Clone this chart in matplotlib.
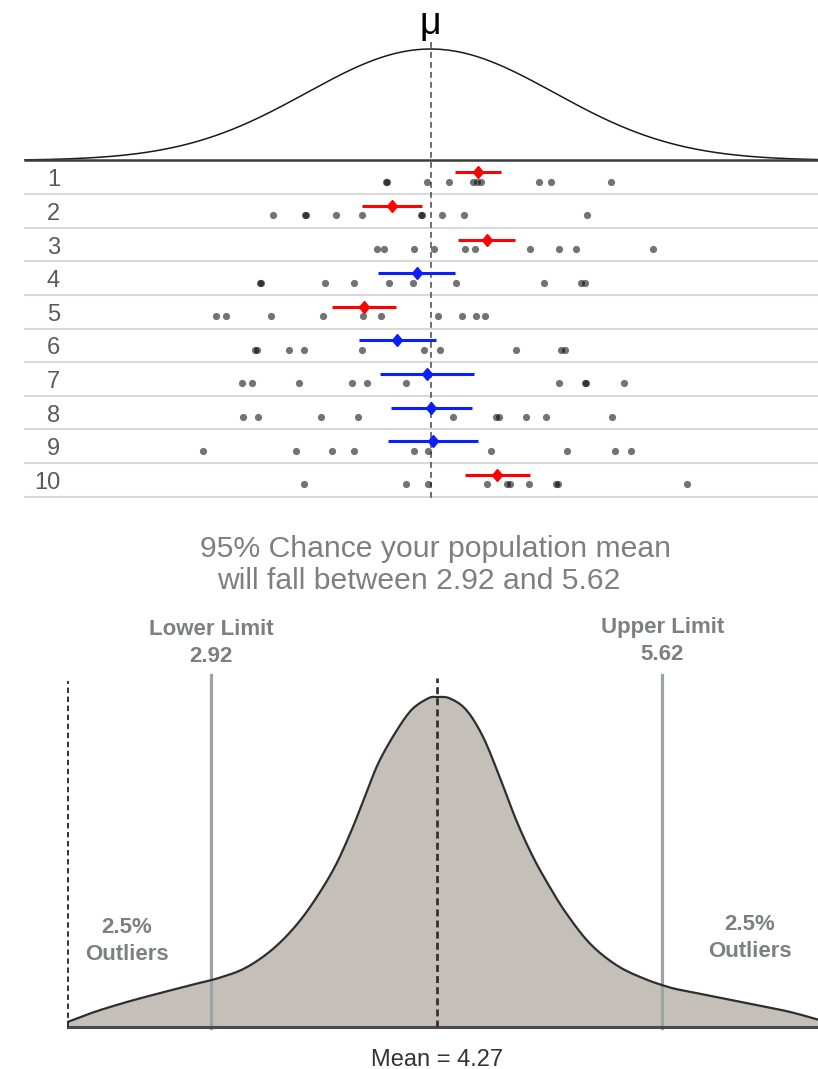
import numpy as np
import matplotlib
matplotlib.use("Agg")
import matplotlib.pyplot as plt
from matplotlib.markers import MarkerStyle
from matplotlib.transforms import Affine2D, blended_transform_factory

plt.rcParams['font.family'] = ['Liberation Sans', 'DejaVu Sans']

# ---------------- data ----------------
mu = 50.0
sigma = 10.0
row_labels = ["1", "2", "3", "4", "5", "6", "7", "8", "9", "10"]
sample_1 = [46.43, 46.50, 49.74, 51.52, 53.45, 53.73, 54.05, 58.73, 59.69, 64.58]
sample_2 = [37.32, 39.85, 39.95, 42.38, 44.48, 49.22, 49.30, 50.90, 52.70, 62.62]
sample_3 = [45.71, 46.25, 48.69, 50.31, 52.81, 53.59, 58.02, 60.34, 61.71, 67.97]
sample_4 = [36.22, 36.32, 41.49, 43.81, 46.63, 48.61, 52.06, 59.15, 62.11, 62.48]
sample_5 = [32.68, 33.48, 37.16, 41.35, 44.56, 45.98, 50.58, 52.56, 53.67, 54.42]
sample_6 = [35.88, 35.98, 38.56, 39.82, 44.50, 49.45, 50.79, 56.92, 60.55, 60.82]
sample_7 = [34.82, 35.58, 39.40, 43.69, 44.85, 48.05, 60.39, 62.47, 62.57, 65.63]
sample_8 = [34.85, 36.06, 41.17, 44.18, 51.84, 55.28, 55.55, 57.70, 59.31, 64.61]
sample_9 = [31.68, 39.15, 42.06, 43.85, 48.65, 49.77, 54.88, 61.01, 64.90, 66.17]
sample_10 = [39.82, 48.02, 49.82, 54.53, 56.15, 56.41, 57.97, 60.10, 60.26, 70.71]
samples = [sample_1, sample_2, sample_3, sample_4, sample_5,
           sample_6, sample_7, sample_8, sample_9, sample_10]

title_lines = ["95% Chance your population mean", "will fall between 2.92 and 5.62"]
pop_mean = 4.27
lower_limit = 2.92
upper_limit = 5.62
tail_label = ["2.5%", "Outliers"]
# illustrative sampling-distribution outline (x value, relative height)
curve_x = [2.067, 2.226, 2.426, 2.625, 2.824, 2.964, 3.123, 3.283, 3.423, 3.542,
           3.662, 3.762, 3.841, 3.921, 4.021, 4.120, 4.220, 4.270, 4.348, 4.447,
           4.547, 4.647, 4.746, 4.846, 4.946, 5.045, 5.185, 5.344, 5.504, 5.664,
           5.783, 5.982, 6.181, 6.381, 6.561]
curve_h = [0.016, 0.046, 0.077, 0.104, 0.130, 0.148, 0.178, 0.233, 0.304, 0.385,
           0.486, 0.597, 0.698, 0.799, 0.890, 0.961, 0.996, 1.000, 0.996, 0.961,
           0.880, 0.758, 0.627, 0.516, 0.425, 0.345, 0.254, 0.188, 0.148, 0.120,
           0.107, 0.087, 0.067, 0.046, 0.021]

# ---------------- layout ----------------
W, H = 818, 1069
fig = plt.figure(figsize=(W / 100, H / 100), dpi=100)


def add_ax(x0, y0, x1, y1):
    ax = fig.add_axes([x0 / W, 1 - y1 / H, (x1 - x0) / W, (y1 - y0) / H])
    ax.axis('off')
    return ax


def fy(ypx):
    return 1 - ypx / H


def smooth_path(x, y, ax, steps=10):
    """Catmull-Rom path through the given points, computed in display space."""
    pts = ax.transData.transform(np.column_stack([x, y]))
    p = np.vstack([pts[0], pts, pts[-1]])
    out = []
    t = np.linspace(0, 1, steps, endpoint=False)[:, None]
    for k in range(1, len(p) - 2):
        p0, p1, p2, p3 = p[k - 1], p[k], p[k + 1], p[k + 2]
        seg = 0.5 * ((2 * p1) + (-p0 + p2) * t + (2 * p0 - 5 * p1 + 4 * p2 - p3) * t ** 2
                     + (-p0 + 3 * p1 - 3 * p2 + p3) * t ** 3)
        out.append(seg)
    out.append(pts[-1][None, :])
    out = np.vstack(out)
    d = ax.transData.inverted().transform(out)
    return d[:, 0], d[:, 1]


# top scale: mu at 430.5 px, 12.4 px per unit
mu_px, ppu = 430.5, 12.4
xmin_top = mu - mu_px / ppu
xmax_top = mu + (W - mu_px) / ppu
row_top, row_h = 160.4, 33.63
row_bot = row_top + 10 * row_h

# ---- population curve ----
ax_c = add_ax(0, 40, W, row_top)
xs = np.linspace(mu - (mu_px - 25) / ppu, xmax_top, 400)
pdf = np.exp(-0.5 * ((xs - mu) / sigma) ** 2) / (sigma * np.sqrt(2 * np.pi))
peak = 1 / (sigma * np.sqrt(2 * np.pi))
ax_c.set_xlim(xmin_top, xmax_top)
ax_c.set_ylim(0, peak * (row_top - 40) / (row_top - 49))
ax_c.plot(xs, pdf, color='#1a1a1a', lw=1.1)
ax_c.axhline(0, xmin=25 / W, xmax=1, color='#3c3c3c', lw=1.8, clip_on=False)
ax_c.text(mu, fy(34), "μ", transform=blended_transform_factory(ax_c.transData, fig.transFigure),
          ha='center', va='baseline', fontsize=27, color='black')

# ---- sample rows ----
ax_r = add_ax(0, row_top, W, row_bot)
ax_r.set_xlim(xmin_top, xmax_top)
ax_r.set_ylim(10, 0)
for i in range(1, 11):
    ax_r.axhline(i, xmin=25 / W, xmax=1, color='#d9d9d9', lw=1.5, zorder=1, clip_on=False)

diamond = MarkerStyle('D', transform=Affine2D().scale(0.8, 1.0))
for i, vals in enumerate(samples):
    v = np.array(vals)
    m = v.mean()
    se = v.std(ddof=1) / np.sqrt(len(v))
    lo, hi = m - se, m + se
    col = '#0a1fff' if lo <= mu <= hi else '#ff0000'
    ax_r.scatter(v, np.full(len(v), i + 0.633), s=27, color='black', alpha=0.55,
                 linewidths=0, zorder=3)
    ax_r.plot([lo, hi], [i + 0.355] * 2, color=col, lw=2.2, solid_capstyle='butt', zorder=4)
    ax_r.plot([m], [i + 0.355], marker=diamond, ms=6.3, color=col, mec=col, zorder=5)
    ax_r.text(60 / W, i + 0.77, row_labels[i], transform=ax_r.get_yaxis_transform(),
              ha='right', va='baseline', fontsize=17, color='#5a5a5a')

ax_r.plot([mu, mu], [(42 - row_top) / row_h, (500 - row_top) / row_h], color='#555555',
          lw=1.2, ls=(0, (3.5, 2.5)), clip_on=False, zorder=2)

# ---- middle title ----
fig.text(200 / W, fy(557), title_lines[0], ha='left', va='baseline', fontsize=21.7,
         color='#7f7f7f')
fig.text(217 / W, fy(589), title_lines[1], ha='left', va='baseline', fontsize=21.7,
         color='#7f7f7f')

# ---- sampling distribution ----
b_mean_px, b_ppu, base_px = 436.6, 167.2, 1027
ax_b = add_ax(0, 660, W, base_px)
bx0 = pop_mean - b_mean_px / b_ppu
bx1 = pop_mean + (W - b_mean_px) / b_ppu
ax_b.set_xlim(bx0, bx1)
ax_b.set_ylim(0, (base_px - 660) / 330)
sx, sy = smooth_path(curve_x, curve_h, ax_b)
ax_b.fill_between(sx, sy, 0, color='#c4bfb9', lw=0, zorder=1)
ax_b.plot(sx, sy, color='#2e2e2e', lw=1.6, zorder=3, solid_joinstyle='round')
ax_b.plot([curve_x[0], bx1], [0, 0], color='#4a4a4a', lw=2.2, clip_on=False, zorder=4)
ax_b.plot([pop_mean, pop_mean], [0, (base_px - 678) / 330], color='#333333', lw=2.0,
          ls=(0, (2.5, 1.5)), zorder=5)
ax_b.plot([curve_x[0], curve_x[0]], [0, (base_px - 681) / 330], color='#222222', lw=1.3,
          ls=(0, (3, 2)), zorder=5)
for lim in (lower_limit, upper_limit):
    ax_b.plot([lim, lim], [-1 / 330, (base_px - 675) / 330], color='#9da2a7', lw=2.3,
              zorder=2, clip_on=False)

tb = blended_transform_factory(ax_b.transData, fig.transFigure)
lab_col = '#7d7f82'
bold = dict(ha='center', va='baseline', fontsize=16, fontweight='bold', color=lab_col)
ax_b.text(lower_limit, fy(635), "Lower Limit", transform=tb, **bold)
ax_b.text(lower_limit, fy(662), f"{lower_limit:.2f}", transform=tb, **bold)
ax_b.text(upper_limit, fy(633), "Upper Limit", transform=tb, **bold)
ax_b.text(upper_limit, fy(660), f"{upper_limit:.2f}", transform=tb, **bold)
fig.text(126.7 / W, fy(933), tail_label[0], **bold)
fig.text(126.7 / W, fy(960), tail_label[1], **bold)
fig.text(749.7 / W, fy(930), tail_label[0], **bold)
fig.text(749.7 / W, fy(956.7), tail_label[1], **bold)
ax_b.text(pop_mean, fy(1066), f"Mean = {pop_mean:.2f}", transform=tb, ha='center',
          va='baseline', fontsize=17, color='#333333')

fig.savefig("out.png", dpi=100, facecolor='white')
